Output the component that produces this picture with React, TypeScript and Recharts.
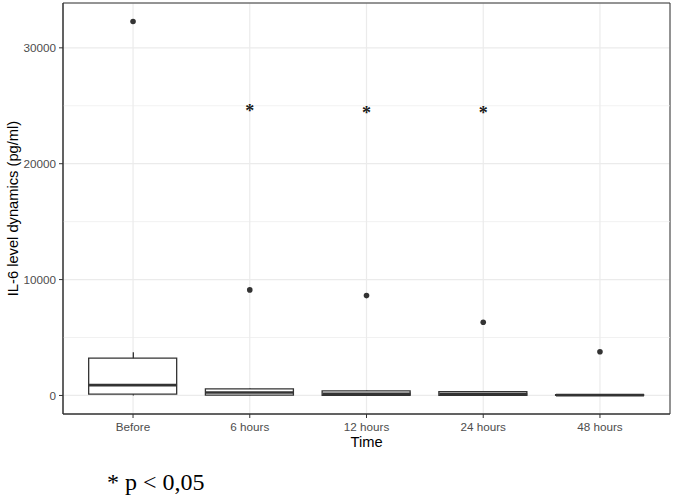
import React from 'react';
import {
  ComposedChart,
  Bar,
  Scatter,
  XAxis,
  YAxis,
  CartesianGrid,
  ReferenceLine,
  ReferenceArea,
} from 'recharts';

// ---- data ----
const categories = ['Before', '6 hours', '12 hours', '24 hours', '48 hours'];
const positions = [1, 2, 3, 4, 5];
const whiskerLow = [0, 20, 10, 5, 0];
const q1 = [110, 30, 20, 10, 0];
const median = [890, 250, 150, 110, 30];
const q3 = [3220, 560, 400, 320, 60];
const whiskerHigh = [3730, 600, 420, 330, 70];
const outliers = [32270, 9110, 8620, 6320, 3770];
const significance: (number | null)[] = [null, 24800, 24600, 24550, null];

const yTicks = [0, 10000, 20000, 30000];
const yMinorTicks = [5000, 15000, 25000];
const X_DOMAIN: [number, number] = [0.4, 5.6];
const Y_DOMAIN: [number, number] = [-1600, 33870];

// ---- derived tables ----
const boxData = positions.map((x, i) => ({
  x,
  whisker: [whiskerLow[i], whiskerHigh[i]],
  box: [q1[i], q3[i]],
}));
const medianData = positions.map((x, i) => ({ x, y: median[i] }));
const outlierData = positions.map((x, i) => ({ x, y: outliers[i] }));
const sigData = positions
  .map((x, i) => ({ x, y: significance[i] }))
  .filter((d) => d.y !== null);

const DARK = '#333333';
const GRID = '#EBEBEB';
const BOX_W = 88;
const FONT = '"Liberation Sans", Arial, sans-serif';

const MedianShape = (p: any) => (
  <line
    x1={p.cx - BOX_W / 2}
    x2={p.cx + BOX_W / 2}
    y1={p.cy}
    y2={p.cy}
    stroke={DARK}
    strokeWidth={2.6}
  />
);

const OutlierShape = (p: any) => <circle cx={p.cx} cy={p.cy} r={2.8} fill={DARK} />;

const StarShape = (p: any) => (
  <text
    x={p.cx}
    y={p.cy + 8.5}
    textAnchor="middle"
    fontFamily='"Liberation Serif", "Times New Roman", serif'
    fontSize={18}
    fontWeight="bold"
    fill="#1a1a1a"
  >
    *
  </text>
);

const YTitle = (props: any) => {
  const vb = props.viewBox || { x: 0, y: 0, width: 0, height: 0 };
  const x = vb.x + 17.5;
  const y = vb.y + vb.height / 2;
  return (
    <text
      x={x}
      y={y}
      transform={`rotate(-90 ${x} ${y})`}
      textAnchor="middle"
      fontFamily={FONT}
      fontSize={14.7}
      fill="#000"
    >
      IL-6 level dynamics (pg/ml)
    </text>
  );
};

const tickStyle = { fill: '#4D4D4D', fontSize: 11.7, fontFamily: FONT };

export default function App() {
  return (
    <div style={{ position: 'absolute', left: 0, top: 0, width: 680, height: 497, background: '#fff' }}>
      <ComposedChart
        width={680}
        height={460}
        data={boxData}
        margin={{ top: 3, right: 10, bottom: 9, left: 0 }}
      >
        <CartesianGrid stroke={GRID} strokeWidth={1.2} />
        {yMinorTicks.map((v) => (
          <ReferenceLine key={v} y={v} stroke={GRID} strokeWidth={0.7} />
        ))}
        <XAxis
          dataKey="x"
          type="number"
          domain={X_DOMAIN}
          ticks={positions}
          tickFormatter={(v: number) => categories[positions.indexOf(v)] ?? ''}
          interval={0}
          allowDataOverflow
          height={37}
          tick={tickStyle}
          tickSize={4}
          tickMargin={5}
          tickLine={{ stroke: DARK }}
          axisLine={{ stroke: DARK }}
          label={{
            value: 'Time',
            position: 'insideBottom',
            offset: 4,
            fill: '#000',
            fontSize: 14.7,
            fontFamily: FONT,
          }}
        />
        <XAxis
          xAxisId="b"
          dataKey="x"
          type="number"
          domain={X_DOMAIN}
          ticks={positions}
          allowDataOverflow
          hide
        />
        <YAxis
          type="number"
          dataKey="y"
          domain={Y_DOMAIN}
          ticks={yTicks}
          allowDataOverflow
          width={63}
          tick={tickStyle}
          tickSize={4}
          tickMargin={3}
          tickLine={{ stroke: DARK }}
          axisLine={{ stroke: DARK }}
          label={<YTitle />}
        />
        <Bar dataKey="whisker" barSize={1.3} fill={DARK} isAnimationActive={false} />
        <Bar
          xAxisId="b"
          dataKey="box"
          barSize={BOX_W}
          fill="#ffffff"
          stroke={DARK}
          strokeWidth={1.3}
          isAnimationActive={false}
        />
        <Scatter data={medianData} dataKey="y" shape={MedianShape} isAnimationActive={false} />
        <Scatter data={outlierData} dataKey="y" shape={OutlierShape} isAnimationActive={false} />
        <Scatter data={sigData} dataKey="y" shape={StarShape} isAnimationActive={false} />
        <ReferenceArea
          x1={X_DOMAIN[0]}
          x2={X_DOMAIN[1]}
          y1={Y_DOMAIN[0]}
          y2={Y_DOMAIN[1]}
          fill="none"
          fillOpacity={0}
          stroke={DARK}
          strokeWidth={1}
          strokeOpacity={1}
        />
      </ComposedChart>
      <div
        style={{
          position: 'absolute',
          left: 107,
          top: 470,
          fontFamily: '"Liberation Serif", "Times New Roman", serif',
          fontSize: 24,
          lineHeight: '24px',
          whiteSpace: 'nowrap',
          color: '#000',
        }}
      >
        * p &lt; 0,05
      </div>
    </div>
  );
}
